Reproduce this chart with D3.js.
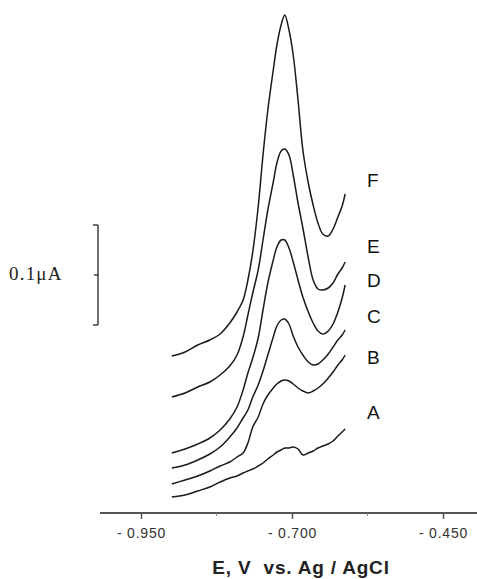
<!DOCTYPE html>
<html>
<head>
<meta charset="utf-8">
<script src="https://cdn.jsdelivr.net/npm/d3@7"></script>
<style>
  html, body { margin: 0; padding: 0; background: #fff; }
  svg { display: block; }
</style>
</head>
<body>
<svg id="chart" width="477" height="579"></svg>
<script>
// Potential grid (V vs. Ag/AgCl) shared by all voltammograms
const potentials = [-0.899, -0.877, -0.856, -0.836, -0.819, -0.803, -0.791, -0.781, -0.773, -0.765,
  -0.756, -0.748, -0.740, -0.731, -0.725, -0.718, -0.712, -0.705, -0.698, -0.690,
  -0.682, -0.673, -0.665, -0.657, -0.649, -0.640, -0.632, -0.624, -0.617, -0.612];

// Offset currents (µA) for each trace
const curveA = [0.023, 0.025, 0.029, 0.033, 0.038, 0.042, 0.044, 0.047, 0.049, 0.051,
  0.054, 0.057, 0.061, 0.065, 0.068, 0.070, 0.072, 0.072, 0.073, 0.071,
  0.065, 0.067, 0.069, 0.072, 0.074, 0.076, 0.079, 0.084, 0.088, 0.091];
const curveB = [0.036, 0.040, 0.044, 0.049, 0.054, 0.058, 0.063, 0.067, 0.077, 0.093,
  0.103, 0.116, 0.125, 0.132, 0.136, 0.139, 0.140, 0.139, 0.136, 0.132,
  0.129, 0.127, 0.129, 0.132, 0.136, 0.142, 0.148, 0.155, 0.160, 0.165];
const curveC = [0.052, 0.055, 0.060, 0.066, 0.073, 0.083, 0.092, 0.102, 0.110, 0.123,
  0.135, 0.149, 0.165, 0.183, 0.194, 0.200, 0.201, 0.196, 0.184, 0.173,
  0.165, 0.158, 0.155, 0.156, 0.160, 0.166, 0.173, 0.180, 0.185, 0.190];
const curveD = [0.067, 0.071, 0.076, 0.082, 0.090, 0.101, 0.113, 0.130, 0.147, 0.162,
  0.182, 0.210, 0.237, 0.260, 0.273, 0.280, 0.280, 0.272, 0.258, 0.240,
  0.223, 0.208, 0.197, 0.189, 0.186, 0.189, 0.196, 0.208, 0.222, 0.235];
const curveE = [0.123, 0.127, 0.133, 0.138, 0.145, 0.154, 0.165, 0.183, 0.205, 0.227,
  0.250, 0.280, 0.310, 0.338, 0.357, 0.369, 0.371, 0.365, 0.345, 0.317,
  0.292, 0.262, 0.240, 0.231, 0.230, 0.232, 0.237, 0.246, 0.252, 0.258];
const curveF = [0.164, 0.168, 0.175, 0.180, 0.186, 0.197, 0.208, 0.220, 0.240, 0.268,
  0.313, 0.365, 0.410, 0.450, 0.475, 0.495, 0.505, 0.490, 0.465, 0.420,
  0.370, 0.337, 0.315, 0.297, 0.286, 0.284, 0.291, 0.303, 0.314, 0.326];

const curveNames = ["A", "B", "C", "D", "E", "F"];
const curveValues = [curveA, curveB, curveC, curveD, curveE, curveF];
// Vertical position (µA) at which each trace letter sits
const labelLevels = [0.101, 0.156, 0.197, 0.233, 0.267, 0.333];

const tickValues = [-0.950, -0.700, -0.450];
const minorTickValues = [-0.825, -0.575];
const tickLabels = ["- 0.950", "- 0.700", "- 0.450"];
const axisTitle = "E, V  vs. Ag / AgCl";

// Current scale bar
const scaleBarBase = 0.195;
const scaleBarSpan = 0.1;
const scaleBarLabel = "0.1\u03bcA";

const svg = d3.select("#chart");

const x = d3.scaleLinear().domain([-0.950, -0.450]).range([141, 443]);
const y = d3.scaleLinear().domain([0, 0.52]).range([520, 0]);
const axisY = 513;

// Traces
const line = d3.line()
  .x(d => x(d[0]))
  .y(d => y(d[1]))
  .curve(d3.curveCatmullRom.alpha(0.5));

svg.append("g")
  .selectAll("path")
  .data(curveValues)
  .join("path")
  .attr("d", vals => line(potentials.map((p, i) => [p, vals[i]])))
  .attr("fill", "none")
  .attr("stroke", "#1a1a1a")
  .attr("stroke-width", 1.5)
  .attr("stroke-linejoin", "round");

// Trace letters
svg.append("g")
  .selectAll("text")
  .data(curveNames)
  .join("text")
  .attr("x", 367)
  .attr("y", (d, i) => y(labelLevels[i]))
  .attr("font-family", "'Liberation Sans', Arial, sans-serif")
  .attr("font-size", 19)
  .attr("fill", "#111")
  .text(d => d);

// Potential axis
const axis = d3.axisBottom(x)
  .tickValues(tickValues)
  .tickSize(6)
  .tickSizeOuter(0)
  .tickFormat((d, i) => tickLabels[i]);

const gAxis = svg.append("g")
  .attr("transform", `translate(0,${axisY})`)
  .call(axis);

gAxis.select(".domain").remove();
gAxis.insert("line", ":first-child")
  .attr("x1", x.range()[0] - 41)
  .attr("x2", 477)
  .attr("y1", 0).attr("y2", 0)
  .attr("stroke", "#555")
  .attr("stroke-width", 2);
gAxis.selectAll(".tick line").attr("stroke", "#555").attr("stroke-width", 1.5);
gAxis.selectAll(".tick text")
  .attr("y", 25)
  .attr("dy", 0)
  .attr("font-family", "'Liberation Sans', Arial, sans-serif")
  .attr("font-size", 14)
  .attr("letter-spacing", 0.8)
  .attr("fill", "#333");

gAxis.append("g")
  .selectAll("line")
  .data(minorTickValues)
  .join("line")
  .attr("x1", d => x(d)).attr("x2", d => x(d))
  .attr("y1", 0).attr("y2", 3)
  .attr("stroke", "#888")
  .attr("stroke-width", 1);

svg.append("text")
  .attr("x", (x.range()[0] + x.range()[1]) / 2 + 9)
  .attr("y", 574)
  .attr("text-anchor", "middle")
  .attr("font-family", "'Liberation Sans', Arial, sans-serif")
  .attr("font-weight", "bold")
  .attr("font-size", 19)
  .attr("letter-spacing", 0.8)
  .attr("fill", "#222")
  .style("white-space", "pre")
  .text(axisTitle);

// Scale bar
const barX = 98;
const barTop = y(scaleBarBase + scaleBarSpan);
const barBottom = y(scaleBarBase);
const barMid = (barTop + barBottom) / 2;
const gBar = svg.append("g").attr("stroke", "#222").attr("stroke-width", 1.3);
gBar.append("line").attr("x1", barX).attr("x2", barX).attr("y1", barTop).attr("y2", barBottom);
gBar.append("line").attr("x1", barX - 5).attr("x2", barX).attr("y1", barTop).attr("y2", barTop);
gBar.append("line").attr("x1", barX - 5).attr("x2", barX).attr("y1", barBottom).attr("y2", barBottom);
gBar.append("line").attr("x1", barX - 4).attr("x2", barX).attr("y1", barMid).attr("y2", barMid);

svg.append("text")
  .attr("x", 9)
  .attr("y", barMid + 5)
  .attr("font-family", "'Liberation Serif', 'Times New Roman', serif")
  .attr("font-size", 19)
  .attr("letter-spacing", 1.2)
  .attr("fill", "#222")
  .text(scaleBarLabel);
</script>
</body>
</html>
